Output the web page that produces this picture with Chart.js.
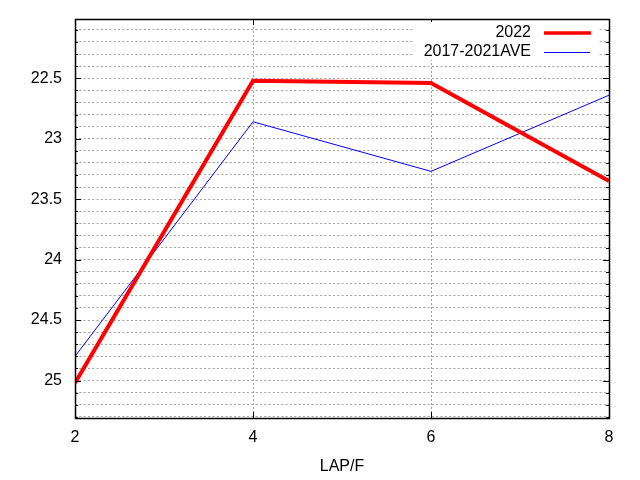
<!DOCTYPE html>
<html>
<head>
<meta charset="utf-8">
<script src="https://cdn.jsdelivr.net/npm/chart.js@4"></script>
<style>
html,body{margin:0;padding:0;background:#fff;}
#wrap{width:640px;height:480px;}
</style>
</head>
<body>
<div id="wrap"><canvas id="c" width="640" height="480"></canvas></div>
<script>
// Data
const laps = [2, 4, 6, 8];
const series2022 = [25.02, 22.52, 22.54, 23.35];
const seriesAve = [24.80, 22.86, 23.27, 22.64];
const seriesNames = ['2022', '2017-2021AVE'];
const xTickValues = [2, 4, 6, 8];
const yMajorTicks = [22.5, 23, 23.5, 24, 24.5, 25];
const yGridTicks = [22.1,22.2,22.3,22.4,22.5,22.6,22.7,22.8,22.9,23,23.1,23.2,23.3,23.4,23.5,23.6,23.7,23.8,23.9,24,24.1,24.2,24.3,24.4,24.5,24.6,24.7,24.8,24.9,25,25.1,25.2,25.3];
const xTitle = 'LAP/F';

const FONT = 'Liberation Sans, Arial, sans-serif';

const frame = {
  id: 'frame',
  afterDatasetsDraw(chart) {
    const ctx = chart.ctx, a = chart.chartArea;
    const xs = chart.scales.x, ys = chart.scales.y;
    ctx.save();
    ctx.strokeStyle = '#000';
    ctx.lineWidth = 1;
    ctx.beginPath();
    yGridTicks.forEach(v => {
      const y = Math.round(ys.getPixelForValue(v)) + 0.5;
      const major = yMajorTicks.some(m => Math.abs(m - v) < 1e-6);
      const len = major ? 6 : 3;
      ctx.moveTo(a.left, y); ctx.lineTo(a.left + len, y);
      ctx.moveTo(a.right, y); ctx.lineTo(a.right - len, y);
    });
    xTickValues.forEach(v => {
      const x = Math.round(xs.getPixelForValue(v)) + 0.5;
      ctx.moveTo(x, a.bottom); ctx.lineTo(x, a.bottom - 6);
      ctx.moveTo(x, a.top); ctx.lineTo(x, a.top + 6);
    });
    ctx.stroke();
    ctx.lineWidth = 1.5;
    ctx.strokeRect(Math.round(a.left) + 0.5, Math.round(a.top) + 0.5, Math.round(a.right - a.left), Math.round(a.bottom - a.top));
    // legend
    ctx.fillStyle = '#fff';
    ctx.fillRect(413, 22, 185, 38);
    ctx.font = '16px ' + FONT;
    ctx.fillStyle = '#000';
    ctx.textAlign = 'right';
    ctx.textBaseline = 'middle';
    ctx.fillText(seriesNames[0], 531, 33);
    ctx.fillText(seriesNames[1], 531, 52);
    ctx.lineCap = 'butt';
    ctx.strokeStyle = '#ff0000'; ctx.lineWidth = 3.5;
    ctx.beginPath(); ctx.moveTo(544, 33); ctx.lineTo(591, 33); ctx.stroke();
    ctx.strokeStyle = '#0000ff'; ctx.lineWidth = 1;
    ctx.beginPath(); ctx.moveTo(544, 52.5); ctx.lineTo(590, 52.5); ctx.stroke();
    ctx.restore();
  }
};

new Chart(document.getElementById('c'), {
  type: 'line',
  data: {
    datasets: [
      { label: seriesNames[0], data: laps.map((x, i) => ({x, y: series2022[i]})), borderColor: '#ff0000', borderWidth: 4, pointRadius: 0, tension: 0, fill: false },
      { label: seriesNames[1], data: laps.map((x, i) => ({x, y: seriesAve[i]})), borderColor: '#0000ff', borderWidth: 1, pointRadius: 0, tension: 0, fill: false }
    ]
  },
  options: {
    responsive: false,
    animation: false,
    devicePixelRatio: 1,
    layout: { padding: { top: 19, right: 31, left: 0, bottom: 0 } },
    plugins: { legend: { display: false }, tooltip: { enabled: false } },
    scales: {
      x: {
        type: 'linear', min: 2, max: 8,
        afterBuildTicks: s => { s.ticks = xTickValues.map(v => ({value: v})); },
        afterFit: s => { s.height = 62; s.paddingLeft = 0; s.paddingRight = 0; },
        ticks: { color: '#000', font: { size: 16, family: FONT }, padding: 10, maxRotation: 0 },
        grid: { color: '#a0a0a0', drawTicks: false, lineWidth: 1 },
        border: { display: false, dash: [2, 2] },
        title: { display: true, text: xTitle, color: '#000', font: { size: 16, family: FONT }, padding: { top: 0, bottom: 4 } }
      },
      y: {
        type: 'linear', reverse: true, min: 22.01, max: 25.31,
        afterBuildTicks: s => { s.ticks = yGridTicks.map(v => ({value: v})); },
        afterFit: s => { s.width = 75; s.paddingTop = 0; s.paddingBottom = 0; },
        ticks: {
          color: '#000', font: { size: 16, family: FONT }, padding: 13, autoSkip: false,
          callback: v => yMajorTicks.some(m => Math.abs(m - v) < 1e-6) ? String(+v.toFixed(1)) : ''
        },
        grid: { color: '#a0a0a0', drawTicks: false, lineWidth: 1 },
        border: { display: false, dash: [2, 2.3] }
      }
    }
  },
  plugins: [frame]
});
</script>
</body>
</html>
